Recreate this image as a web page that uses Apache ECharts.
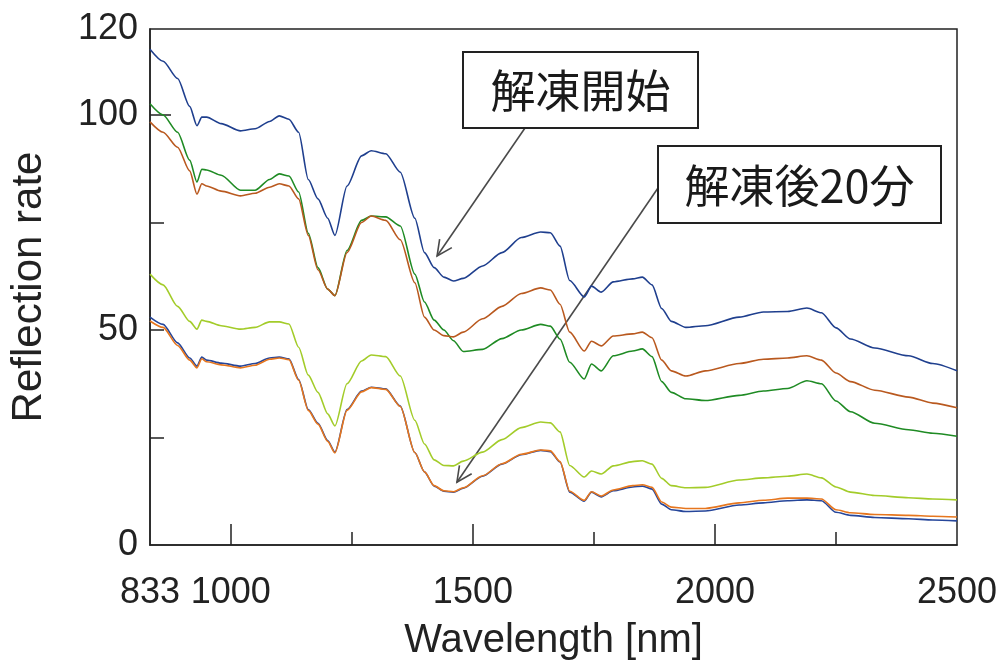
<!DOCTYPE html>
<html>
<head>
<meta charset="utf-8">
<script src="https://cdn.jsdelivr.net/npm/echarts@6/dist/echarts.min.js"></script>
<style>
  html, body { margin: 0; padding: 0; background: #fff; }
  #chart { width: 1002px; height: 666px; }
</style>
</head>
<body>
<div id="chart"></div>
<script>
// Wavelength samples [nm]
const wavelengths = [833, 860, 890, 915, 930, 940, 950, 980, 1020, 1050, 1080, 1100, 1120, 1140, 1160, 1180, 1200, 1215, 1240, 1270, 1290, 1320, 1350, 1380, 1400, 1420, 1440, 1460, 1480, 1520, 1560, 1600, 1640, 1660, 1680, 1700, 1730, 1745, 1765, 1790, 1830, 1850, 1870, 1890, 1910, 1940, 1980, 2050, 2100, 2150, 2190, 2220, 2250, 2280, 2330, 2400, 2450, 2500];

// Reflection at start of thawing
const thawStartBlue = [115.3, 112.5, 108.5, 102, 97.5, 99.5, 99.5, 98, 96.3, 96.8, 98.5, 99.8, 99, 96, 85, 80.5, 76, 72, 83.5, 90.5, 91.7, 91, 86.7, 76, 68, 64.5, 62.3, 61.4, 62, 64.9, 68, 71.5, 72.8, 72.6, 69.5, 61.5, 57.7, 60.2, 58.8, 61.2, 61.9, 62.3, 60.5, 55, 52, 50.6, 51, 53, 54.2, 54.3, 55.1, 54, 50.5, 47.9, 45.8, 44, 42.2, 40.5];
const thawStartBrown = [98.4, 96, 92.5, 87, 81.6, 84, 83.5, 82.3, 81.2, 81.8, 83.2, 84, 83.5, 80.5, 72, 64, 59.5, 58, 68, 75, 76.5, 75.5, 71, 61, 53, 50, 48.7, 48.4, 49.5, 52.6, 55.5, 58.5, 59.8, 59.3, 56, 49.5, 45.1, 47.4, 46.3, 48.6, 49.1, 49.5, 48.2, 43, 40.5, 39.3, 40.5, 42.2, 43.2, 43.5, 44, 43, 40, 38, 36, 34.4, 33, 31.9];
const thawStartGreen = [102.6, 100, 96, 89.5, 84.4, 87.4, 87.2, 86, 82.5, 82.5, 85, 86.3, 85.8, 82.1, 72.5, 64.5, 59.5, 58, 68.5, 75.5, 76.5, 76.3, 74.2, 63, 56.5, 52.3, 50, 47.5, 45, 45.5, 48, 50, 51.3, 50.9, 47.9, 42.5, 38.6, 42.1, 40.5, 44, 45.1, 45.6, 43.8, 38, 35.5, 34, 33.6, 34.8, 35.8, 36.4, 38.2, 37.5, 33.5, 31, 28.3, 26.8, 26, 25.3];

// Reflection 20 minutes after thawing
const after20Lime = [63, 60.5, 55.5, 52, 50.2, 52.3, 52, 51, 50.2, 50.6, 51.9, 51.9, 51.4, 46, 39.5, 35.5, 30.5, 27.7, 37.5, 42.8, 44.2, 43.8, 39.3, 29, 23.5, 19.8, 18.5, 18.4, 19.5, 21.6, 24.5, 27.3, 28.6, 28.4, 26.3, 18.5, 15.8, 17.2, 16.5, 18.4, 19.4, 19.6, 18.8, 15.5, 13.8, 13.3, 13.4, 15.1, 15.6, 16, 16.5, 15.6, 13.5, 12.3, 11.5, 11, 10.7, 10.5];
const after20Blue = [53, 51.3, 47, 43.5, 41.6, 43.7, 43, 42.3, 41.6, 42.2, 43.5, 43.7, 43.3, 38.5, 31.5, 28.3, 24.3, 21.6, 31.5, 35.8, 36.7, 36.3, 32.3, 21.5, 17, 13.7, 12.5, 12.3, 13.2, 16, 18.8, 21, 22, 21.7, 19.3, 12.3, 10.2, 12.3, 11.2, 12.6, 13.5, 13.7, 13, 9.5, 8.2, 7.8, 7.9, 9.3, 9.8, 10.3, 10.5, 10.3, 7.6, 6.9, 6.4, 6.1, 5.8, 5.6];
const after20Orange = [52.1, 50.6, 46.4, 43, 41.2, 43.3, 42.6, 41.9, 41.2, 41.8, 43.2, 43.5, 43.1, 38.3, 31.3, 28.1, 24.1, 21.4, 31.3, 35.6, 36.6, 36.2, 32.2, 21.5, 17, 13.8, 12.6, 12.4, 13.3, 16.1, 18.9, 21.1, 22.1, 21.9, 19.4, 12.5, 10.4, 12.4, 11.4, 12.8, 13.8, 14, 13.4, 10, 8.8, 8.5, 8.5, 9.8, 10.4, 10.9, 10.9, 10.7, 8.2, 7.5, 7.1, 6.9, 6.7, 6.5];

// Axis tick positions and labels
const xLabelValues = [833, 1000, 1500, 2000, 2500];
const xMajorTicks = [1000, 1500, 2000];
const xMinorTicks = [1250, 1750, 2250];
const yLabelValues = [0, 50, 100, 120];
const yMajorTicks = [100];
const yMinorTicks = [25, 50, 75];

// Annotation texts and the data points their arrows point at
const noteStart = '解凍開始';
const noteAfter = '解凍後20分';
const noteStartTarget = [1426, 67.2];
const noteAfterTarget = [1467, 14.6];

const seriesDefs = [
  { name: 'start-green', data: thawStartGreen, color: '#1f8b24' },
  { name: 'start-brown', data: thawStartBrown, color: '#b9591f' },
  { name: 'start-blue', data: thawStartBlue, color: '#1f3f8e' },
  { name: 'after-lime', data: after20Lime, color: '#a3cc2a' },
  { name: 'after-blue', data: after20Blue, color: '#26469a' },
  { name: 'after-orange', data: after20Orange, color: '#e6761e' }
];

const FONT = "'Liberation Sans', Arial, sans-serif";
const CJK = "'Noto Sans CJK JP', sans-serif";
const INK = '#222';
const plain = v => String(v);

const chart = echarts.init(document.getElementById('chart'), null, { renderer: 'canvas' });

const xBase = { type: 'value', min: 833, max: 2500, gridIndex: 0, position: 'bottom' };
const yBase = { type: 'value', min: 0, max: 120, gridIndex: 0, position: 'left' };

chart.setOption({
  animation: false,
  backgroundColor: '#fff',
  grid: {
    left: 150, right: 45, top: 29, bottom: 120,
    show: true, borderColor: INK, borderWidth: 1.5, backgroundColor: 'transparent'
  },
  xAxis: [
    Object.assign({}, xBase, {
      name: 'Wavelength [nm]',
      nameLocation: 'middle',
      nameGap: 76,
      nameTextStyle: { fontFamily: FONT, fontSize: 40, color: INK },
      axisLine: { show: true, lineStyle: { color: INK, width: 1.5 } },
      axisTick: { show: true, inside: true, length: 21, customValues: xMajorTicks, lineStyle: { color: INK, width: 1.5 } },
      axisLabel: { show: true, customValues: xLabelValues, formatter: plain, margin: 30, fontFamily: FONT, fontSize: 36, color: INK },
      splitLine: { show: false }
    }),
    Object.assign({}, xBase, {
      axisLine: { show: false },
      axisTick: { show: true, inside: true, length: 13, customValues: xMinorTicks, lineStyle: { color: INK, width: 1.5 } },
      axisLabel: { show: false },
      splitLine: { show: false }
    })
  ],
  yAxis: [
    Object.assign({}, yBase, {
      name: 'Reflection rate',
      nameLocation: 'middle',
      nameGap: 100,
      nameTextStyle: { fontFamily: FONT, fontSize: 42, color: INK },
      axisLine: { show: true, lineStyle: { color: INK, width: 1.5 } },
      axisTick: { show: true, inside: true, length: 21, customValues: yMajorTicks, lineStyle: { color: INK, width: 1.5 } },
      axisLabel: { show: true, customValues: yLabelValues, formatter: plain, margin: 12, fontFamily: FONT, fontSize: 36, color: INK },
      splitLine: { show: false }
    }),
    Object.assign({}, yBase, {
      axisLine: { show: false },
      axisTick: { show: true, inside: true, length: 14, customValues: yMinorTicks, lineStyle: { color: INK, width: 1.5 } },
      axisLabel: { show: false },
      splitLine: { show: false }
    })
  ],
  series: seriesDefs.map(s => ({
    name: s.name,
    type: 'line',
    xAxisIndex: 0,
    yAxisIndex: 0,
    data: wavelengths.map((w, i) => [w, s.data[i]]),
    showSymbol: false,
    smooth: 0.25,
    smoothMonotone: 'x',
    lineStyle: { color: s.color, width: 1.6 },
    itemStyle: { color: s.color },
    silent: true
  }))
});

// Callout boxes with arrows pointing into the curves
function arrow(from, to) {
  const dx = to[0] - from[0], dy = to[1] - from[1];
  const ang = Math.atan2(dy, dx);
  const L = 17, spread = 0.45;
  const w1 = [to[0] - L * Math.cos(ang - spread), to[1] - L * Math.sin(ang - spread)];
  const w2 = [to[0] - L * Math.cos(ang + spread), to[1] - L * Math.sin(ang + spread)];
  const style = { stroke: '#4a4a4a', lineWidth: 1.6, fill: null };
  return [
    { type: 'line', shape: { x1: from[0], y1: from[1], x2: to[0], y2: to[1] }, style },
    { type: 'polyline', shape: { points: [w1, to, w2] }, style }
  ];
}

function box(x, y, w, h, text) {
  return [
    { type: 'rect', shape: { x, y, width: w, height: h },
      style: { fill: '#fff', stroke: INK, lineWidth: 2 }, z: 10 },
    { type: 'text', x: x + w / 2, y: y + h / 2 + 1, z: 11,
      style: { text, fontFamily: CJK, fontSize: 45, fill: '#1a1a1a', align: 'center', verticalAlign: 'middle' } }
  ];
}

const tipStart = chart.convertToPixel({ gridIndex: 0 }, noteStartTarget);
const tipAfter = chart.convertToPixel({ gridIndex: 0 }, noteAfterTarget);

chart.setOption({
  graphic: [
    ...arrow([525, 128], tipStart),
    ...arrow([658, 188], tipAfter),
    ...box(463, 52, 235, 76, noteStart),
    ...box(658, 146, 283, 77, noteAfter)
  ]
});
</script>
</body>
</html>
